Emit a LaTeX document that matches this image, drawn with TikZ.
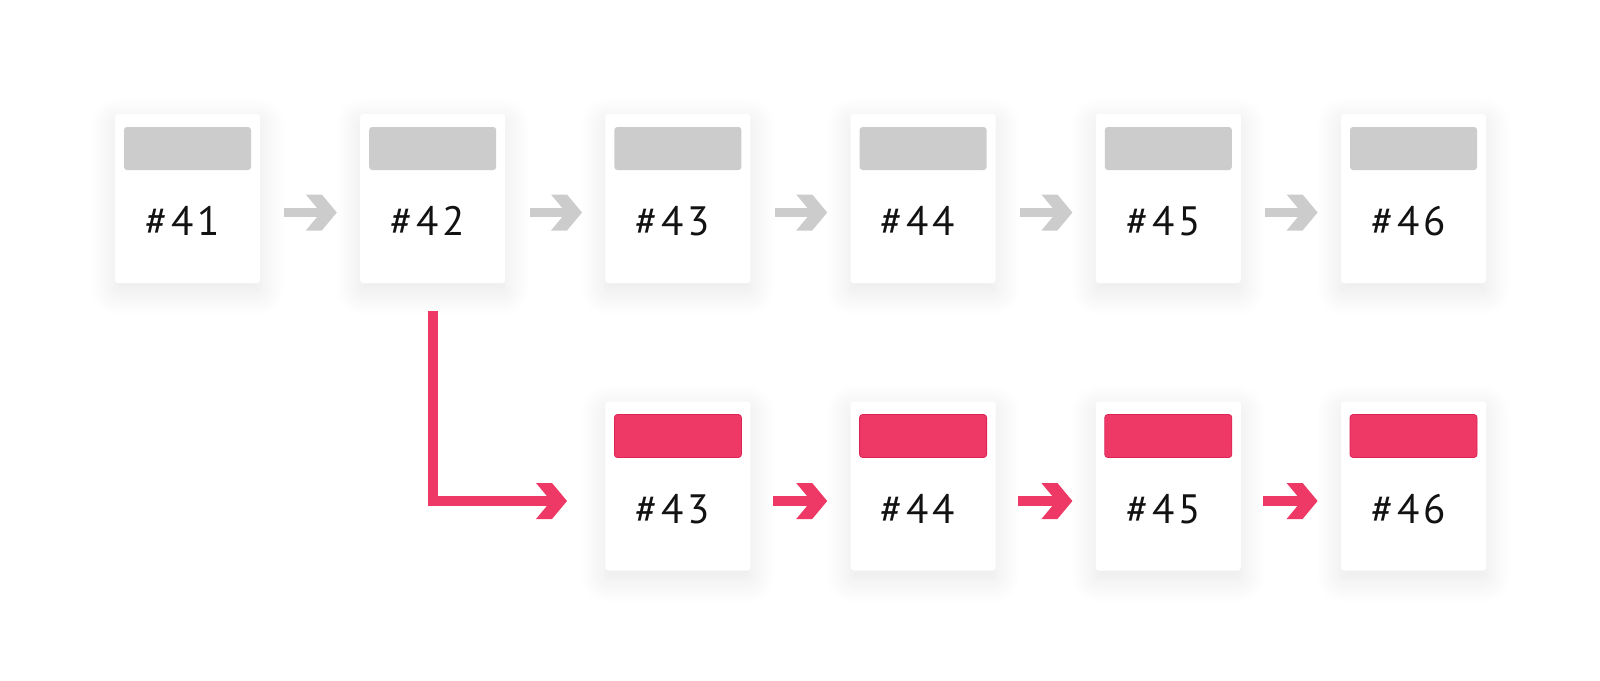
\documentclass[tikz,border=0pt]{standalone}
\usepackage{fontspec}
\setmainfont{PT Sans}
\newfontfamily\tagfont[LetterSpace=9]{PT Sans}
\usetikzlibrary{positioning,calc,shadows.blur}
\definecolor{cardgray}{HTML}{CCCCCC}
\definecolor{cardred}{HTML}{EE3866}
\definecolor{cardreddark}{HTML}{DC2456}
\tikzset{
  card/.style={fill=white, rounded corners=1.5pt, minimum width=72.5pt, minimum height=84.5pt, inner sep=0pt,
    blur shadow={shadow xshift=0pt, shadow yshift=-4pt, shadow blur radius=12pt, shadow opacity=10, shadow blur steps=12}},
  head/.style={rounded corners=1.5pt, minimum width=63.5pt, minimum height=21.5pt, inner sep=0pt, anchor=north},
  tag/.style={anchor=base, font=\tagfont\fontsize{20.5}{24}\selectfont, text=black!93, inner sep=0pt},
  shaft/.style={line width=4.5pt, shorten >=8pt, line join=miter},
  chev/.pic={\fill[#1, shorten >=0pt] (0,0) -- (-15,-18) -- (-31,-18) -- (-16,0) -- (-31,18) -- (-15,18) -- cycle;}
}
\begin{document}
\begin{tikzpicture}[x=0.5pt, y=-0.5pt]
  \useasboundingbox (0,0) rectangle (1600,680);

  % upper row
  \foreach \n [count=\i from 0] in {41,...,46} {
    \node[card] (t\n) at (187.5+245.2*\i, 198.5) {};
    \node[head, fill=cardgray] at ([yshift=-6.5pt]t\n.north) {};
    \node[tag] (tag\n) at ([shift={(-5,122)}]t\n.north) {\#\n};
  }

  % lower row
  \foreach \n [count=\i from 2] in {43,...,46} {
    \node[card] (b\n) at (187.5+245.2*\i, 486) {};
    \node[head, fill=cardred, draw=cardreddark, line width=0.4pt] at ([yshift=-6.5pt]b\n.north) {};
    \node[tag] (btag\n) at ([shift={(-5,122)}]b\n.north) {\#\n};
  }

  \foreach \a/\b in {41/42, 42/43, 43/44, 44/45, 45/46}
    \draw[shaft, cardgray] ([shift={(24,14)}]t\a.east) -- ([shift={(-23,14)}]t\b.west) pic{chev=cardgray};

  \foreach \a/\b in {43/44, 44/45, 45/46}
    \draw[shaft, cardred, line width=5pt] ([shift={(22,15)}]b\a.east) -- ([shift={(-23,15)}]b\b.west) pic{chev=cardred};

  % branch
  \draw[shaft, cardred, line width=5pt] ([yshift=-14pt]t42.south) |- ([shift={(-38,15)}]b43.west) pic{chev=cardred};
\end{tikzpicture}
\end{document}
